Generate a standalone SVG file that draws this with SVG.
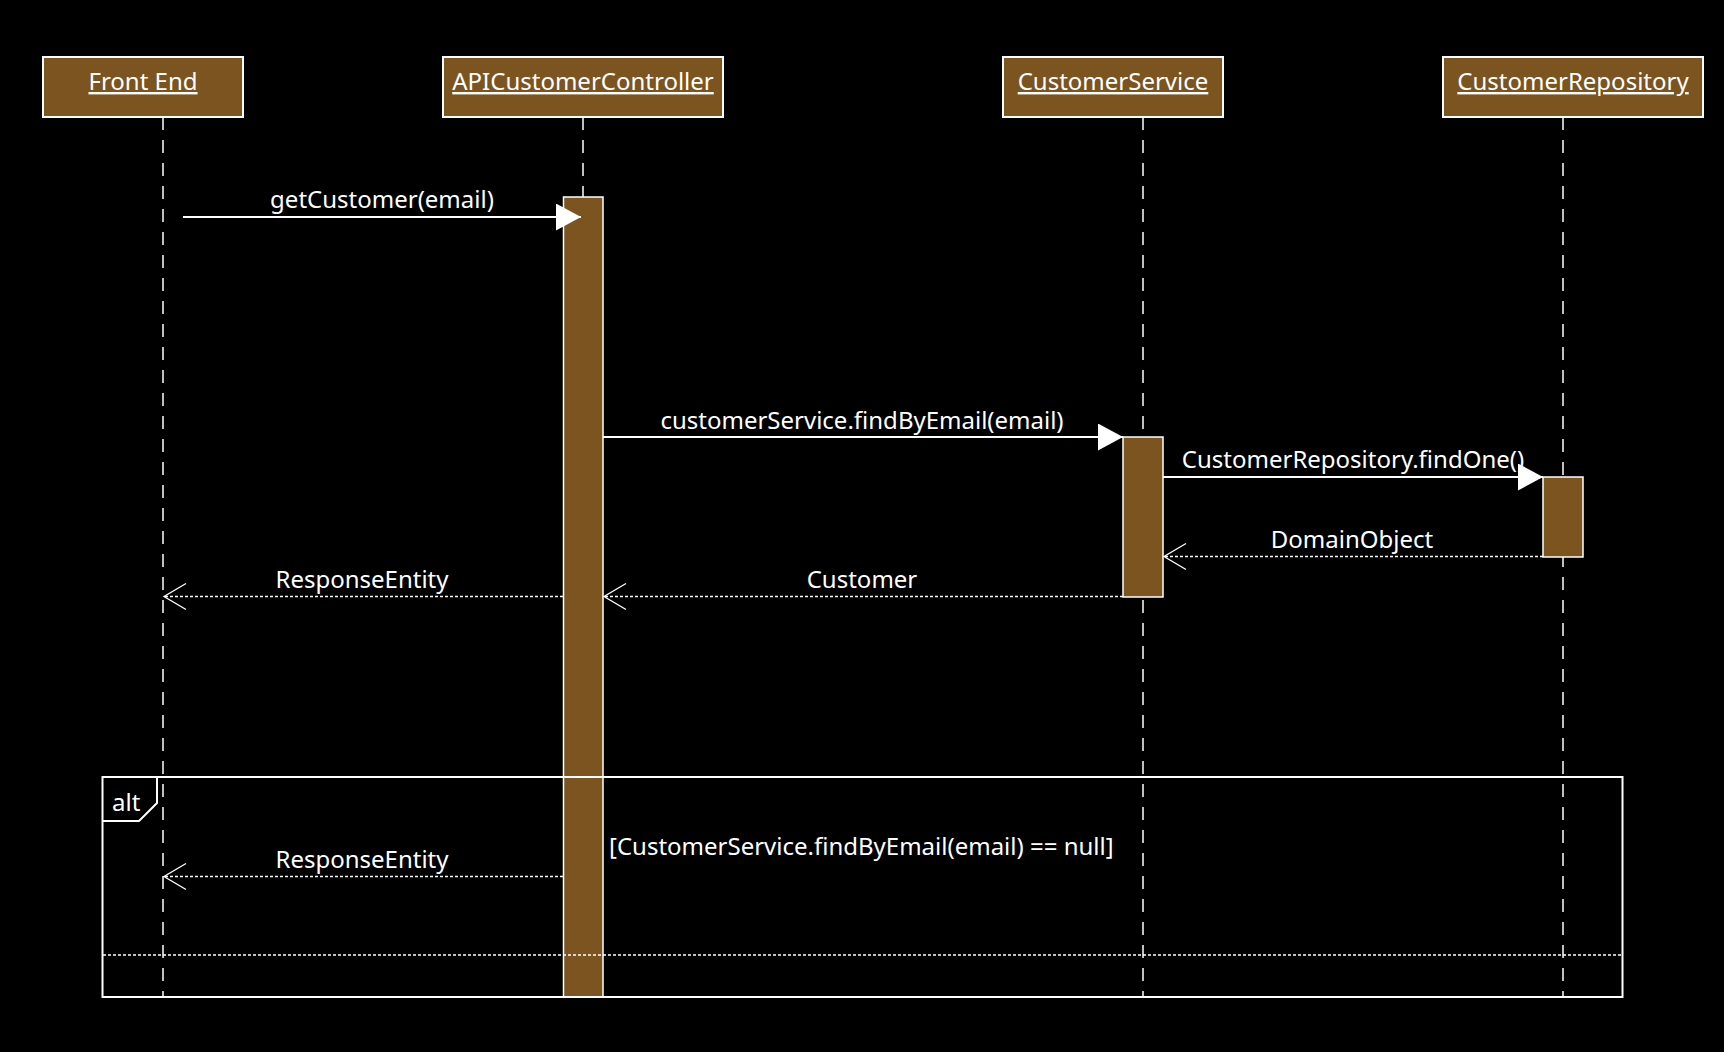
<svg xmlns="http://www.w3.org/2000/svg" width="1724" height="1052" viewBox="0 0 1724 1052">
  <style>
    .bg { fill: #000000; }
    .head { fill: #7B5420; stroke: #FFFFFF; stroke-width: 2; }
    .act { fill: #7B5420; stroke: #FFFFFF; stroke-width: 1.5; }
    .life { stroke: #FFFFFF; stroke-width: 1.5; stroke-dasharray: 13 10; fill: none; }
    .title { font-family: "Noto Sans", "Open Sans", sans-serif; font-size: 24px; fill: #FFFFFF; text-anchor: middle; text-decoration: underline; }
    .lbl { font-family: "Noto Sans", "Open Sans", sans-serif; font-size: 24px; fill: #FFFFFF; text-anchor: middle; }
    .lbl-l { font-family: "Noto Sans", "Open Sans", sans-serif; font-size: 24px; fill: #FFFFFF; }
    .call { stroke: #FFFFFF; stroke-width: 1.8; fill: none; marker-end: url(#filled); }
    .ret { stroke: #FFFFFF; stroke-width: 1.3; stroke-dasharray: 3 2; fill: none; marker-end: url(#open); }
    .frame { fill: none; stroke: #FFFFFF; stroke-width: 2; }
    .sep { stroke: #FFFFFF; stroke-width: 1.3; stroke-dasharray: 3 2; }
  </style>
  <defs>
    <marker id="filled" viewBox="0 0 25 27" refX="25" refY="13.5" markerWidth="25" markerHeight="27" markerUnits="userSpaceOnUse" orient="auto">
      <path d="M0,0 L25,13.5 L0,27 z" fill="#FFFFFF"/>
    </marker>
    <marker id="open" viewBox="0 0 26 30" refX="24" refY="15" markerWidth="26" markerHeight="30" markerUnits="userSpaceOnUse" orient="auto">
      <path d="M2,2 L24,15 L2,28" fill="none" stroke="#FFFFFF" stroke-width="1.3"/>
    </marker>
  </defs>

  <rect class="bg" x="0" y="0" width="1724" height="1052"/>

  <!-- lifelines -->
  <g id="lifelines">
    <line class="life" x1="163" y1="117" x2="163" y2="997"/>
    <line class="life" x1="583" y1="117" x2="583" y2="997"/>
    <line class="life" x1="1143" y1="117" x2="1143" y2="997"/>
    <line class="life" x1="1563" y1="117" x2="1563" y2="997"/>
  </g>

  <!-- participants -->
  <g id="front-end">
    <rect class="head" x="43" y="57" width="200" height="60"/>
    <text class="title" x="143" y="90">Front End</text>
  </g>
  <g id="api-customer-controller">
    <rect class="head" x="443" y="57" width="280" height="60"/>
    <text class="title" x="583" y="90">APICustomerController</text>
  </g>
  <g id="customer-service">
    <rect class="head" x="1003" y="57" width="220" height="60"/>
    <text class="title" x="1113" y="90">CustomerService</text>
  </g>
  <g id="customer-repository">
    <rect class="head" x="1443" y="57" width="260" height="60"/>
    <text class="title" x="1573" y="90">CustomerRepository</text>
  </g>

  <!-- activation bars -->
  <g id="activations">
    <rect id="act-controller" class="act" x="563.5" y="197" width="39.5" height="800"/>
    <rect id="act-service" class="act" x="1123" y="437" width="40" height="160"/>
    <rect id="act-repository" class="act" x="1543" y="477" width="40" height="80"/>
  </g>

  <!-- messages -->
  <g id="connectors">
    <line class="call" x1="183" y1="217" x2="581" y2="217"/>
    <text class="lbl" x="382" y="208">getCustomer(email)</text>

    <line class="call" x1="603" y1="437" x2="1123" y2="437"/>
    <text class="lbl" x="862" y="429">customerService.findByEmail(email)</text>

    <line class="call" x1="1163" y1="477" x2="1543" y2="477"/>
    <text class="lbl" x="1353" y="468">CustomerRepository.findOne()</text>

    <line class="ret" x1="1543" y1="556.5" x2="1164" y2="556.5"/>
    <text class="lbl" x="1352" y="548">DomainObject</text>

    <line class="ret" x1="1123" y1="596.5" x2="604" y2="596.5"/>
    <text class="lbl" x="862" y="588">Customer</text>

    <line class="ret" x1="563" y1="596.5" x2="164" y2="596.5"/>
    <text class="lbl" x="362" y="588">ResponseEntity</text>

    <line class="ret" x1="563" y1="876.5" x2="164" y2="876.5"/>
    <text class="lbl" x="362" y="868">ResponseEntity</text>
  </g>

  <!-- alt combined fragment -->
  <g id="alt-fragment">
    <rect class="frame" x="102.5" y="777" width="1520" height="220"/>
    <path class="frame" d="M102.5,821 L139,821 L157,803 L157,777"/>
    <text class="lbl-l" x="112" y="811">alt</text>
    <text class="lbl-l" x="609" y="855">[CustomerService.findByEmail(email) == null]</text>
    <line class="sep" x1="103" y1="955" x2="1622" y2="955"/>
  </g>
</svg>
